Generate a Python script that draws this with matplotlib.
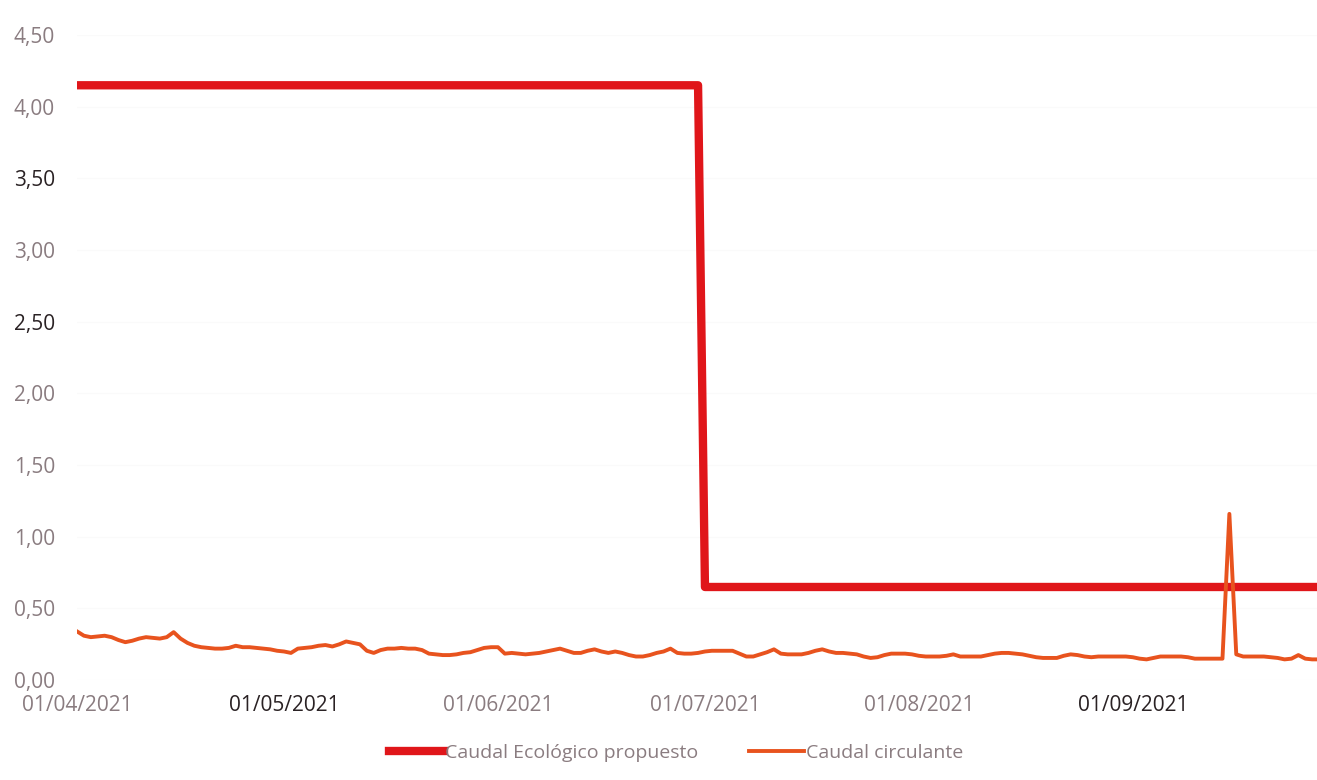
import pandas as pd
import matplotlib
matplotlib.use('Agg')
import matplotlib.pyplot as plt
import matplotlib.dates as mdates
import matplotlib.ticker as mticker
import numpy as np

#---    Datos
start_date = '2021-04-01'

# caudal circulante diario (m3/s)
caudal_circ = [0.34, 0.31, 0.30, 0.305, 0.31, 0.30, 0.28, 0.265, 0.275, 0.29,
               0.30, 0.295, 0.29, 0.30, 0.335, 0.29, 0.26, 0.24, 0.23, 0.225,
               0.22, 0.22, 0.225, 0.24, 0.23, 0.23, 0.225, 0.22, 0.215, 0.205,
               0.20, 0.19, 0.22, 0.225, 0.23, 0.24, 0.245, 0.235, 0.25, 0.27,
               0.26, 0.25, 0.205, 0.19, 0.21, 0.22, 0.22, 0.225, 0.22, 0.22,
               0.21, 0.185, 0.18, 0.175, 0.175, 0.18, 0.19, 0.195, 0.21, 0.225,
               0.23, 0.23, 0.185, 0.19, 0.185, 0.18, 0.185, 0.19, 0.20, 0.21,
               0.22, 0.205, 0.19, 0.19, 0.205, 0.215, 0.20, 0.19, 0.20, 0.19,
               0.175, 0.165, 0.165, 0.175, 0.19, 0.20, 0.22, 0.19, 0.185, 0.185,
               0.19, 0.20, 0.205, 0.205, 0.205, 0.205, 0.185, 0.165, 0.165, 0.18,
               0.195, 0.215, 0.185, 0.18, 0.18, 0.18, 0.19, 0.205, 0.215, 0.20,
               0.19, 0.19, 0.185, 0.18, 0.165, 0.155, 0.16, 0.175, 0.185, 0.185,
               0.185, 0.18, 0.17, 0.165, 0.165, 0.165, 0.17, 0.18, 0.165, 0.165,
               0.165, 0.165, 0.175, 0.185, 0.19, 0.19, 0.185, 0.18, 0.17, 0.16,
               0.155, 0.155, 0.155, 0.17, 0.18, 0.175, 0.165, 0.16, 0.165, 0.165,
               0.165, 0.165, 0.165, 0.16, 0.15, 0.145, 0.155, 0.165, 0.165, 0.165,
               0.165, 0.16, 0.15, 0.15, 0.15, 0.15, 0.15, 1.16, 0.18, 0.165,
               0.165, 0.165, 0.165, 0.16, 0.155, 0.145, 0.15, 0.175, 0.15, 0.145,
               0.145, 0.145]

# caudal ecologico propuesto por mes
eco_months = [4, 5, 6, 7, 8, 9]
eco_values = [4.15, 4.15, 4.15, 0.65, 0.65, 0.65]

y_ticks = [0.0, 0.5, 1.0, 1.5, 2.0, 2.5, 3.0, 3.5, 4.0, 4.5]
x_ticks = ['2021-04-01', '2021-05-01', '2021-06-01', '2021-07-01', '2021-08-01', '2021-09-01']

dates = pd.date_range(start_date, periods=len(caudal_circ), freq='D')
circ = pd.Series(caudal_circ, index=dates)
eco_map = dict(zip(eco_months, eco_values))
eco = pd.Series([eco_map[d.month] for d in dates], index=dates)

#---    Estilo
plt.rcParams['font.family'] = ['Open Sans', 'DejaVu Sans']
lbl_color = '#8a7c80'
dark_color = '#2a2224'

fig = plt.figure(figsize=(13.17, 7.8), dpi=100)
ax = fig.add_axes([0.0585, 0.128, 0.9415, 0.827])

ax.plot(eco, color='#e0161a', lw=6, solid_joinstyle='round', label='Caudal Ecológico propuesto', zorder=3)
ax.plot(circ, color='#e8531e', lw=2.8, solid_joinstyle='round', label='Caudal circulante', zorder=4)

ax.set_ylim(0, 4.5)
ax.set_yticks(y_ticks)
ax.yaxis.set_major_formatter(mticker.FuncFormatter(lambda v, p: f'{v:.2f}'.replace('.', ',')))
ax.set_xlim(pd.Timestamp(start_date), pd.Timestamp(start_date) + pd.Timedelta(days=179.7))
ax.set_xticks(pd.to_datetime(x_ticks))
ax.xaxis.set_major_formatter(mdates.DateFormatter('%d/%m/%Y'))

ax.grid(axis='y', color='#fafafa', lw=1)
ax.set_axisbelow(True)
for s in ax.spines.values():
    s.set_visible(False)
ax.tick_params(axis='both', length=0, labelsize=15, colors=lbl_color)
ax.tick_params(axis='y', pad=16)
ax.tick_params(axis='x', pad=11)

# algunas etiquetas salen mas oscuras en el original
for t in ax.get_yticklabels():
    if t.get_text() in ('2,50', '3,50'):
        t.set_color(dark_color)
for i, t in enumerate(ax.get_xticklabels()):
    if i in (1, 5):
        t.set_color(dark_color)

fig.legend(loc='center', bbox_to_anchor=(676 / 1317, 1 - 753 / 780), ncol=2, frameon=False,
           fontsize=14, labelcolor=lbl_color, handlelength=2.8, handletextpad=0.1,
           columnspacing=2.6)

plt.savefig('out.png', dpi=100)
